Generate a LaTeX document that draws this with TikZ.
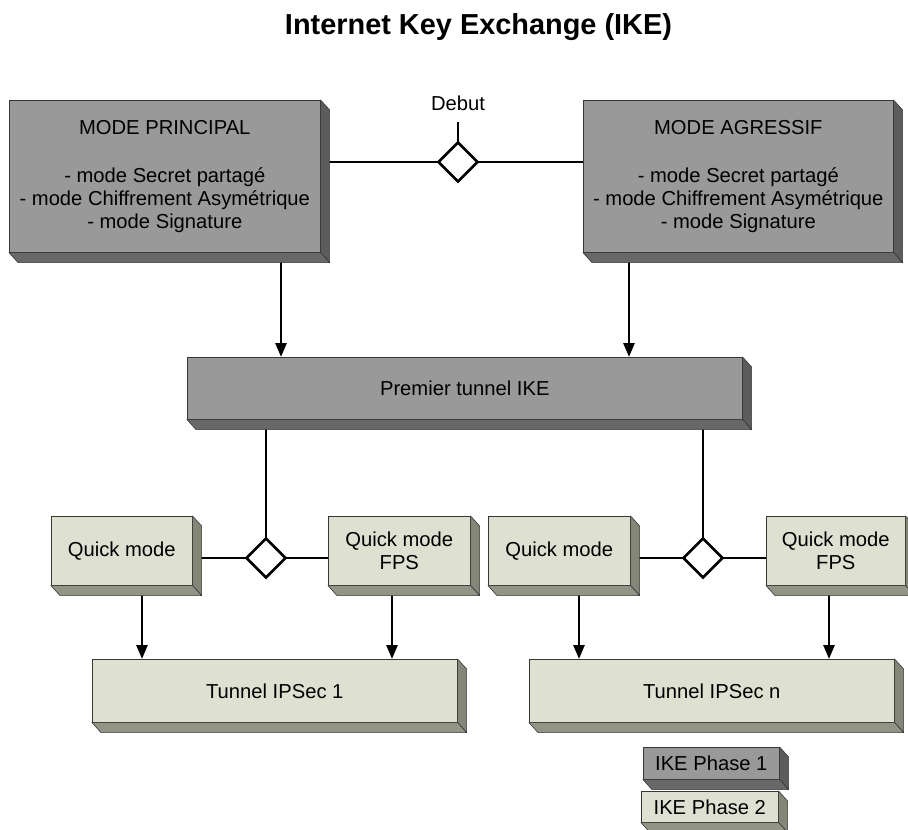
\documentclass[tikz,border=0pt]{standalone}
\usepackage{fontspec}
\setmainfont{Liberation Sans}
\usetikzlibrary{calc,shapes.geometric,arrows.meta,backgrounds}

% face colours of the two phases
\definecolor{phaseAfront}{RGB}{153,153,153}
\definecolor{phaseAside}{RGB}{92,92,92}
\definecolor{phaseAbottom}{RGB}{104,104,104}
\definecolor{phaseBfront}{RGB}{222,225,209}
\definecolor{phaseBside}{RGB}{132,135,120}
\definecolor{phaseBbottom}{RGB}{146,149,134}
\definecolor{edgegray}{RGB}{55,55,55}

% right and bottom faces of an extruded box: node name, side colour, bottom colour
\newcommand{\drawslab}[3]{%
  \filldraw[draw=edgegray,line width=0.6pt,fill=#2,line join=round]
    (#1.north east) -- ++(9,10) -- ($(#1.south east)+(9,10)$) -- (#1.south east) -- cycle;
  \filldraw[draw=edgegray,line width=0.6pt,fill=#3,line join=round]
    (#1.south west) -- (#1.south east) -- ($(#1.south east)+(9,10)$) -- ($(#1.south west)+(9,10)$) -- cycle;
}

\tikzset{
  box/.style={draw=edgegray, line width=0.6pt, inner sep=0pt, anchor=north west,
              align=center, font=\fontsize{20.2}{23}\selectfont},
  phaseA/.style={box, fill=phaseAfront},
  phaseB/.style={box, fill=phaseBfront},
  junction/.style={diamond, draw=black, line width=2.7pt, fill=white,
                   minimum width=40pt, minimum height=40pt, inner sep=0pt},
  link/.style={line width=2.7pt, draw=black},
  arr/.style={link, -{Triangle[length=14pt,width=11pt]}},
  label/.style={inner sep=0pt, font=\fontsize{20.2}{23}\selectfont}
}

\begin{document}
\begin{tikzpicture}[x=1pt,y=-1pt]
\useasboundingbox (0,0) rectangle (908,830);

% title
\node[inner sep=0pt, anchor=base, font=\fontsize{28.9}{32}\selectfont\bfseries] (title)
  at (478.5,34) {Internet Key Exchange (IKE)};

% phase 1 boxes
\node[phaseA, minimum width=311pt, minimum height=152pt] (mp) at (9,100)
  {MODE PRINCIPAL\\[25pt]- mode Secret partagé\\- mode Chiffrement Asymétrique\\- mode Signature};
\node[phaseA, minimum width=310pt, minimum height=152pt] (ma) at (583,100)
  {MODE AGRESSIF\\[25pt]- mode Secret partagé\\- mode Chiffrement Asymétrique\\- mode Signature};
\node[phaseA, minimum width=555pt, minimum height=62pt] (pt) at (187,357) {Premier tunnel IKE};

% phase 2 boxes
\node[phaseB, minimum width=141pt, minimum height=69pt] (qm1) at (51,516) {Quick mode};
\node[phaseB, minimum width=142pt, minimum height=69pt] (fps1) at (328,516) {Quick mode\\FPS};
\node[phaseB, minimum width=142pt, minimum height=69pt] (qm2) at (488,516) {Quick mode};
\node[phaseB, minimum width=139pt, minimum height=69pt] (fps2) at (766,516) {Quick mode\\FPS};
\node[phaseB, minimum width=365pt, minimum height=63pt] (t1) at (92,659) {Tunnel IPSec 1};
\node[phaseB, minimum width=365pt, minimum height=63pt] (tn) at (529,659) {Tunnel IPSec n};

% legend
\node[phaseA, minimum width=136pt, minimum height=32pt] (lg1) at (643,747) {IKE Phase 1};
\node[phaseB, minimum width=137pt, minimum height=31pt] (lg2) at (641,791) {IKE Phase 2};

\drawslab{mp}{phaseAside}{phaseAbottom}
\drawslab{ma}{phaseAside}{phaseAbottom}
\drawslab{pt}{phaseAside}{phaseAbottom}
\drawslab{lg1}{phaseAside}{phaseAbottom}
\drawslab{qm1}{phaseBside}{phaseBbottom}
\drawslab{fps1}{phaseBside}{phaseBbottom}
\drawslab{qm2}{phaseBside}{phaseBbottom}
\drawslab{fps2}{phaseBside}{phaseBbottom}
\drawslab{t1}{phaseBside}{phaseBbottom}
\drawslab{tn}{phaseBside}{phaseBbottom}
\drawslab{lg2}{phaseBside}{phaseBbottom}

% junctions
\node[junction] (d0) at (458,162) {};
\node[junction] (d1) at (266,558) {};
\node[junction] (d2) at (703,558) {};
\node[label] (debut) at (458,103) {Debut};
\coordinate (dtop) at (458,122);

% arrow columns
\coordinate (xA) at (281,0);
\coordinate (xB) at (629,0);
\coordinate (xE) at (142,0);
\coordinate (xF) at (392,0);
\coordinate (xG) at (579,0);
\coordinate (xH) at (829,0);

\begin{scope}[on background layer]
  \draw[link] (mp.center |- d0) -- (ma.center |- d0);
  \draw[link] (d0.center) -- (dtop);
  \draw[arr] (mp.center -| xA) -- (pt.north -| xA);
  \draw[arr] (ma.center -| xB) -- (pt.north -| xB);

  \draw[link] (pt.center -| d1) -- (d1.center);
  \draw[link] (pt.center -| d2) -- (d2.center);
  \draw[link] (qm1.center |- d1) -- (fps1.center |- d1);
  \draw[link] (qm2.center |- d2) -- (fps2.center |- d2);

  \draw[arr] (qm1.center -| xE) -- (t1.north -| xE);
  \draw[arr] (fps1.center -| xF) -- (t1.north -| xF);
  \draw[arr] (qm2.center -| xG) -- (tn.north -| xG);
  \draw[arr] (fps2.center -| xH) -- (tn.north -| xH);
\end{scope}
\end{tikzpicture}
\end{document}
